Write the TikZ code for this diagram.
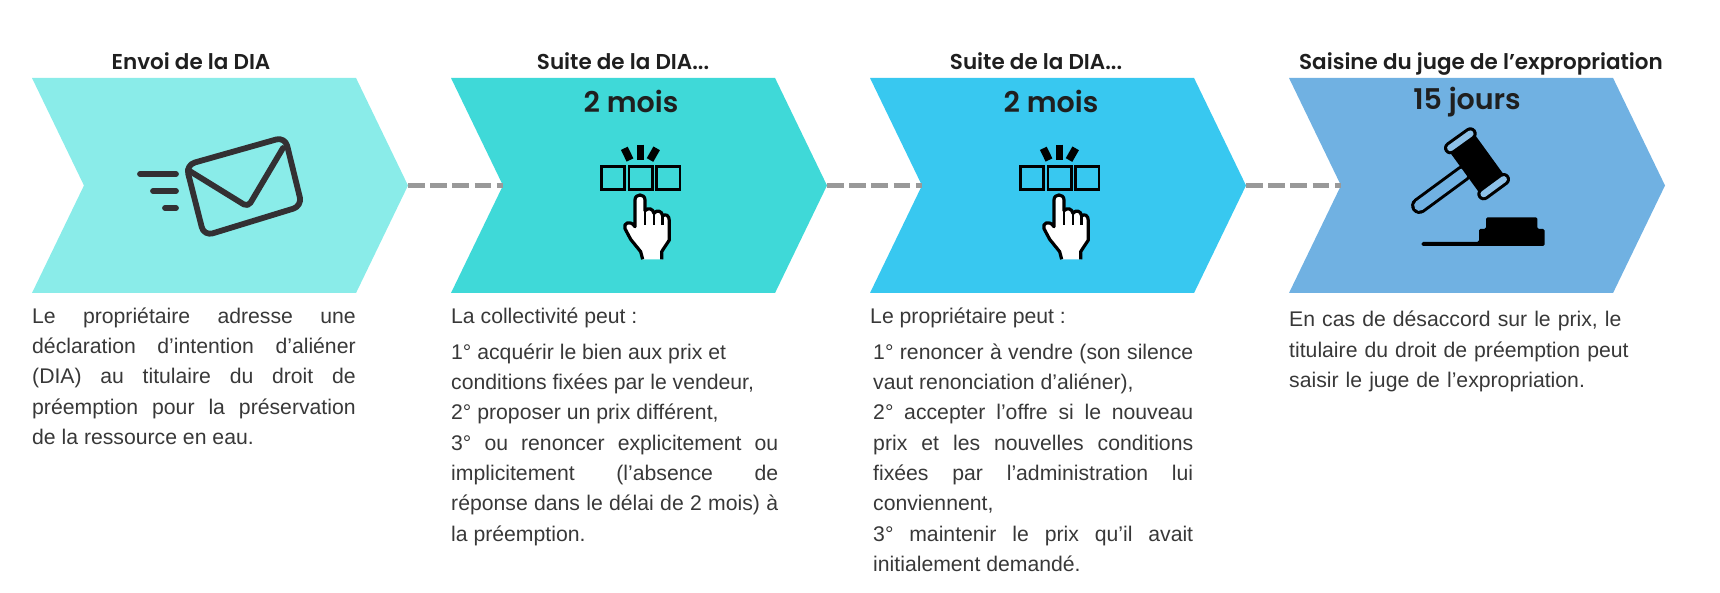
\documentclass[tikz,border=0pt]{standalone}
\usepackage{fontspec}
\setmainfont{Liberation Sans}
\newfontfamily\headfont{Poppins}[BoldFont={Poppins SemiBold}]
\usetikzlibrary{shapes.symbols}
\definecolor{chevA}{HTML}{8AECE9}
\definecolor{chevB}{HTML}{3FD9D8}
\definecolor{chevC}{HTML}{38C8F0}
\definecolor{chevD}{HTML}{70B1E2}
\definecolor{inkdark}{HTML}{333033}
\tikzset{
  chevron/.style={signal,signal to=east,signal from=west,signal pointer angle=128.4,
    minimum width=376pt,minimum height=215pt,inner sep=0pt,outer sep=0pt,draw=none},
  heading/.style={font=\headfont\bfseries\fontsize{21.5}{26}\selectfont,text=black!88,anchor=base,inner sep=0pt},
  delay/.style={font=\headfont\bfseries\fontsize{28.5}{34}\selectfont,text=black!88,anchor=base,inner sep=0pt},
  body/.style={font=\fontsize{21.2}{30.3}\selectfont,text=black!78,anchor=north west,inner sep=0pt,align=justify},
  linkdash/.style={draw=black!40,line width=5pt,dash pattern=on 16.7pt off 5.5pt},
  keyrect/.style={draw=black,line width=2.8pt},
  spark/.style={draw=black,line width=7.5pt},
  mailline/.style={draw=inkdark,line width=5.8pt,line cap=round,line join=round}
}
% hand pressing a key, coordinates read from a 3x crop
\newcommand{\pressicon}[1]{
  \begin{scope}[shift={(#1,130)},x=0.3333pt,y=-0.3333pt]
    \draw[keyrect] (64,110) rectangle (133,178);
    \draw[keyrect] (147,110) rectangle (217,178);
    \draw[keyrect] (230,110) rectangle (300,178);
    \draw[spark] (133,55) -- (150,90);
    \draw[spark] (181,44) -- (181,90);
    \draw[spark] (230,55) -- (210,90);
    \draw[fill=white,line width=3.2pt,line join=round]
      (188,388) -- (182,365) -- (152,328) -- (135,296)
      .. controls (128,280) and (150,268) .. (165,290)
      -- (165,210) .. controls (165,190) and (195,190) .. (195,210)
      -- (195,242) .. controls (205,232) and (218,235) .. (222,250)
      .. controls (230,238) and (246,242) .. (248,258)
      .. controls (256,250) and (268,256) .. (268,272)
      -- (268,330) -- (245,365) -- (245,388);
    \draw[line width=2.6pt] (195,242) -- (195,285);
    \draw[line width=2.6pt] (222,250) -- (222,285);
    \draw[line width=2.6pt] (248,258) -- (248,285);
  \end{scope}
}
\begin{document}
\begin{tikzpicture}[x=1pt,y=-1pt]
  \useasboundingbox (0,0) rectangle (1720,593);

  \node[chevron,fill=chevA] (stepA) at (220,185.5) {};
  \node[chevron,fill=chevB] (stepB) at (639,185.5) {};
  \node[chevron,fill=chevC] (stepC) at (1058,185.5) {};
  \node[chevron,fill=chevD] (stepD) at (1477,185.5) {};

  \draw[linkdash] (stepA.east) -- (stepB.west);
  \draw[linkdash] (stepB.east) -- (stepC.west);
  \draw[linkdash] (stepC.east) -- (stepD.west);

  \node[heading] (titleA) at (191,70) {Envoi de la DIA};
  \node[heading] (titleB) at (623,70) {Suite de la DIA...};
  \node[heading] (titleC) at (1036,70) {Suite de la DIA...};
  \node[heading] (titleD) at (1481,70) {Saisine du juge de l’expropriation};

  \node[delay] (delayB) at (631,113) {2 mois};
  \node[delay] (delayC) at (1051,113) {2 mois};
  \node[delay] (delayD) at (1467,110) {15 jours};

  % envelope
  \draw[mailline,rounded corners=9pt] (186,165) -- (285,137) -- (302,206) -- (204,236) -- cycle;
  \draw[mailline,rounded corners=5pt] (188,170) -- (248,207) -- (283,148);
  \draw[mailline] (140,174) -- (176,174);
  \draw[mailline] (153,191) -- (176,191);
  \draw[mailline] (165,208) -- (176,208);

  \pressicon{580}
  \pressicon{999}

  % gavel
  \begin{scope}[shift={(1400,110)},x=0.3333pt,y=-0.3333pt]
    \draw[line width=16.5pt,line cap=round] (190,190) -- (58,287);
    \draw[chevD,line width=10.5pt,line cap=round] (190,190) -- (58,287);
    \fill (144,119) -- (218,65) -- (318,203) -- (244,257) -- cycle;
    \draw[line width=12.7pt,line cap=round] (151,114) -- (211,71);
    \draw[line width=12.7pt,line cap=round] (251,252) -- (311,208);
    \draw[chevD!80!white,line width=6.5pt,line cap=round] (151,114) -- (211,71);
    \draw[chevD!80!white,line width=6.5pt,line cap=round] (251,252) -- (311,208);
    \fill[rounded corners=1.5pt] (258,322) -- (412,322) -- (412,357) -- (434,357) -- (434,408)
      -- (65,408) -- (65,396) -- (237,396) -- (237,357) -- (258,357) -- cycle;
  \end{scope}

  \node[body,text width=323.5pt] (textA) at (32,307.5) {Le propriétaire adresse une\linebreak
    déclaration d’intention d’aliéner\linebreak
    (DIA) au titulaire du droit de\linebreak
    préemption pour la préservation\linebreak
    de la ressource en eau.};
  \node[body,text width=327pt] (textB) at (451,307.5) {La collectivité peut :\\[5.7pt]
    1° acquérir le bien aux prix et\\
    conditions fixées par le vendeur,\\
    2° proposer un prix différent,\\
    3° ou renoncer explicitement ou\linebreak
    implicitement (l’absence de\linebreak
    réponse dans le délai de 2 mois) à\linebreak
    la préemption.};
  \node[body,text width=320pt] (textC) at (873,307.5) {\hspace*{-3pt}Le propriétaire peut :\\[5.7pt]
    1° renoncer à vendre (son silence\linebreak
    vaut renonciation d’aliéner),\\
    2° accepter l’offre si le nouveau\linebreak
    prix et les nouvelles conditions\linebreak
    fixées par l’administration lui\linebreak
    conviennent,\\
    3° maintenir le prix qu’il avait\linebreak
    initialement demandé.};
  \node[body,text width=345pt,align=left] (textD) at (1289,311) {En cas de désaccord sur le prix, le\\
    titulaire du droit de préemption peut\\
    saisir le juge de l'expropriation.};
\end{tikzpicture}
\end{document}
